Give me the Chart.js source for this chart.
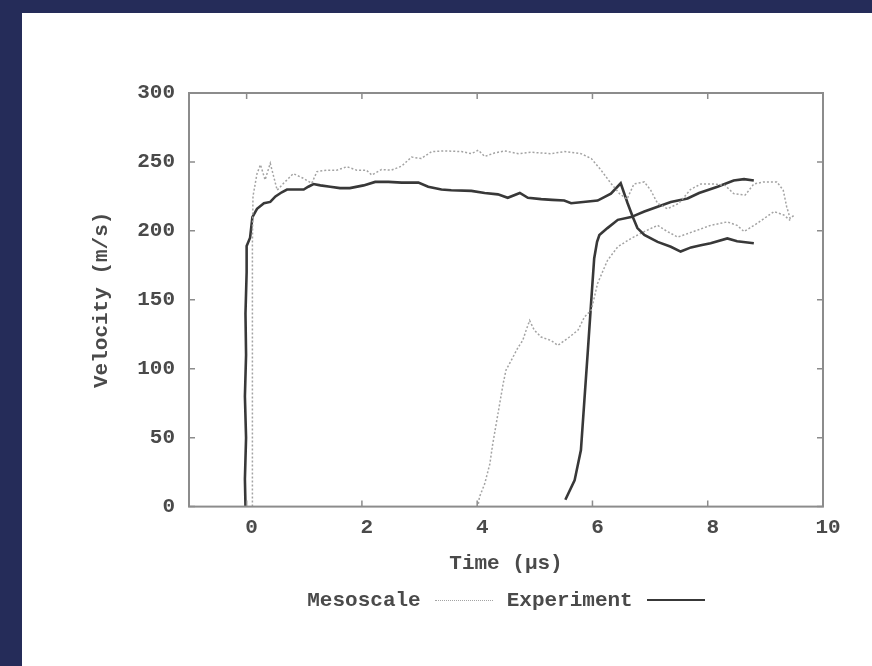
<!DOCTYPE html>
<html>
<head>
<meta charset="utf-8">
<script src="https://cdn.jsdelivr.net/npm/chart.js@4.4.1/dist/chart.umd.min.js"></script>
<style>
  html, body { margin: 0; padding: 0; }
  body { width: 872px; height: 666px; background: #252c59; position: relative; overflow: hidden; }
  #panel { position: absolute; left: 22px; top: 13px; width: 850px; height: 653px; background: #fff; }
  #wrap { position: absolute; left: 0; top: 0; width: 850px; height: 653px; }
  #legend { position: absolute; left: 167px; width: 634px; top: 576px; text-align: center;
            font: bold 21px "Liberation Mono", monospace; color: #4a4a4a; white-space: nowrap; }
  #legend .item { display: inline-block; margin: 0 7px; }
  #legend .line { display: inline-block; width: 58px; margin-left: 14px; vertical-align: middle; }
</style>
</head>
<body>
<div id="panel">
  <div id="wrap"><canvas id="velChart"></canvas></div>
  <div id="legend"></div>
</div>
<script>
// time (us) and velocity (m/s)
var expA_t = [-0.02, -0.03, -0.01, -0.03, -0.01, -0.02, 0.0, 0.0, 0.06, 0.1, 0.18, 0.3, 0.41, 0.5, 0.61, 0.7, 0.99, 1.07, 1.16, 1.28, 1.45, 1.62, 1.79, 2.03, 2.23, 2.46, 2.69, 2.98, 3.15, 3.38, 3.55, 3.9, 4.13, 4.36, 4.53, 4.74, 4.88, 5.11, 5.3, 5.51, 5.63, 6.09, 6.32, 6.49, 6.61, 6.7, 6.78, 6.9, 7.13, 7.36, 7.53, 7.71, 7.88, 8.05, 8.34, 8.51, 8.8];
var expA_v = [0, 20, 50, 80, 110, 140, 170, 189, 195, 210, 216, 220, 221, 225, 228, 230, 230, 232, 234, 233, 232, 231, 231, 233, 235.5, 235.5, 235, 235, 232, 230, 229.5, 229, 227.5, 226.5, 224, 227.5, 224, 223, 222.5, 222, 220, 222, 227, 234.5, 220, 210, 202, 197, 192, 188.5, 185, 188, 189.5, 191, 194.5, 192.5, 191];

var expB_t = [5.53, 5.69, 5.8, 5.86, 5.92, 5.98, 6.03, 6.08, 6.12, 6.26, 6.44, 6.67, 6.9, 7.13, 7.36, 7.65, 7.85, 8.17, 8.45, 8.63, 8.8];
var expB_v = [5, 19, 41, 77, 113, 150, 180, 192, 197, 202, 208, 210, 214, 217.5, 221, 223.5, 227.5, 232, 236.5, 237.5, 236.5];

var mesoA_t = [0.1, 0.1, 0.1, 0.11, 0.18, 0.24, 0.32, 0.41, 0.53, 0.64, 0.81, 0.99, 1.13, 1.22, 1.39, 1.56, 1.74, 1.91, 2.08, 2.17, 2.34, 2.51, 2.69, 2.86, 3.03, 3.21, 3.44, 3.73, 3.9, 4.02, 4.13, 4.3, 4.48, 4.71, 4.94, 5.28, 5.51, 5.8, 5.98, 6.15, 6.32, 6.47, 6.6, 6.72, 6.9, 7.01, 7.13, 7.3, 7.5, 7.7, 7.88, 8.1, 8.3, 8.45, 8.65, 8.8, 8.97, 9.2, 9.31, 9.37, 9.43, 9.49];
var mesoA_v = [0, 100, 190, 225, 241.5, 248, 237, 249, 229.5, 234.5, 241.5, 238, 234.5, 243, 244, 244, 246.5, 244, 244, 240.5, 244.5, 244, 247, 253.5, 252.5, 257.5, 258, 257.5, 256, 258.5, 254, 256.5, 258, 256, 257, 256, 257.5, 256, 252.5, 244, 234.5, 227, 223, 234, 235.5, 229.5, 220, 216, 220, 230, 234, 234, 233, 227, 226, 234, 235.5, 235.5, 229.5, 217.5, 209, 211];

var mesoB_t = [4.02, 4.04, 4.13, 4.22, 4.27, 4.33, 4.39, 4.45, 4.5, 4.59, 4.71, 4.79, 4.85, 4.91, 4.99, 5.11, 5.28, 5.4, 5.57, 5.75, 5.86, 5.98, 6.09, 6.26, 6.44, 6.67, 6.9, 7.13, 7.3, 7.48, 7.82, 8.05, 8.34, 8.51, 8.63, 8.86, 9.15, 9.32, 9.43];
var mesoB_v = [2, 7, 16.5, 31, 45.5, 60, 74.5, 89, 99, 106, 115.5, 120.5, 128, 135, 128, 123, 120.5, 117, 122, 128, 137.5, 142.5, 162, 178.5, 188.5, 194.5, 199.5, 204, 199.5, 195.5, 200.5, 204, 206.5, 204, 199.5, 205.5, 214, 211.5, 207.5];

var xTicks = [0, 2, 4, 6, 8, 10];
var yTicks = [0, 50, 100, 150, 200, 250, 300];

var mesoColor = '#a3a3a3';
var expColor = '#383838';
var frameColor = '#8c8c8c';
var textColor = '#4a4a4a';
var monoFont = '"Liberation Mono", monospace';

function toPoints(ts, vs) {
    return ts.map(function(t, i){ return {x: t, y: vs[i]}; });
}

function mesoSet(ts, vs) {
    return { label: 'Mesoscale', data: toPoints(ts, vs), borderColor: mesoColor,
             borderWidth: 1.5, borderDash: [2, 2], showLine: true, pointRadius: 0, tension: 0 };
}
function expSet(ts, vs) {
    return { label: 'Experiment', data: toPoints(ts, vs), borderColor: expColor,
             borderWidth: 2.6, showLine: true, pointRadius: 0, tension: 0 };
}

// gnuplot style box with inward ticks on all four sides
var framePlugin = {
    id: 'frame',
    afterDatasetsDraw: function(chart) {
        var ctx = chart.ctx, a = chart.chartArea;
        var xs = chart.scales.x, ys = chart.scales.y;
        ctx.save();
        ctx.strokeStyle = frameColor;
        ctx.lineWidth = 1.5;
        ctx.beginPath();
        xTicks.forEach(function(v){
            var px = xs.getPixelForValue(v);
            ctx.moveTo(px, a.bottom); ctx.lineTo(px, a.bottom - 6);
            ctx.moveTo(px, a.top); ctx.lineTo(px, a.top + 6);
        });
        yTicks.forEach(function(v){
            var py = ys.getPixelForValue(v);
            ctx.moveTo(a.left, py); ctx.lineTo(a.left + 6, py);
            ctx.moveTo(a.right, py); ctx.lineTo(a.right - 6, py);
        });
        ctx.stroke();
        ctx.lineWidth = 2;
        ctx.strokeRect(a.left, a.top, a.right - a.left, a.bottom - a.top);
        ctx.restore();
    }
};

var datasets = [mesoSet(mesoA_t, mesoA_v), expSet(expA_t, expA_v),
                mesoSet(mesoB_t, mesoB_v), expSet(expB_t, expB_v)];

var chart = new Chart(document.getElementById('velChart'), {
    type: 'scatter',
    data: { datasets: datasets },
    options: {
        responsive: true,
        maintainAspectRatio: false,
        animation: false,
        layout: { padding: { left: 67, right: 49, top: 80, bottom: 90 } },
        plugins: { legend: { display: false }, tooltip: { enabled: false } },
        scales: {
            x: {
                type: 'linear', min: -1, max: 10,
                grid: { display: false, drawTicks: false },
                border: { display: false },
                afterBuildTicks: function(s){ s.ticks = xTicks.map(function(v){ return {value: v}; }); },
                ticks: { padding: 9, labelOffset: 5, color: textColor, font: { family: monoFont, size: 21, weight: 'bold' } },
                title: { display: true, text: 'Time (\u03bcs)', color: textColor, padding: { top: 1, bottom: 0 },
                         font: { family: monoFont, size: 21, weight: 'bold' } }
            },
            y: {
                type: 'linear', min: 0, max: 300,
                grid: { display: false, drawTicks: false },
                border: { display: false },
                afterBuildTicks: function(s){ s.ticks = yTicks.map(function(v){ return {value: v}; }); },
                afterFit: function(s){ s.width = 100; },
                ticks: { padding: 14, color: textColor, font: { family: monoFont, size: 21, weight: 'bold' } },
                title: { display: true, text: 'Velocity (m/s)', color: textColor, padding: { top: 0, bottom: 0 },
                         font: { family: monoFont, size: 21, weight: 'bold' } }
            }
        }
    },
    plugins: [framePlugin]
});

// legend in gnuplot order: text first, then the line sample
var legendEl = document.getElementById('legend');
datasets.slice(0, 2).forEach(function(ds){
    var item = document.createElement('span');
    item.className = 'item';
    var txt = document.createElement('span');
    txt.textContent = ds.label;
    var line = document.createElement('span');
    line.className = 'line';
    line.style.borderTop = ds.borderDash ? '1.5px dotted ' + ds.borderColor : '2.5px solid ' + ds.borderColor;
    item.appendChild(txt);
    item.appendChild(line);
    legendEl.appendChild(item);
});
</script>
</body>
</html>
